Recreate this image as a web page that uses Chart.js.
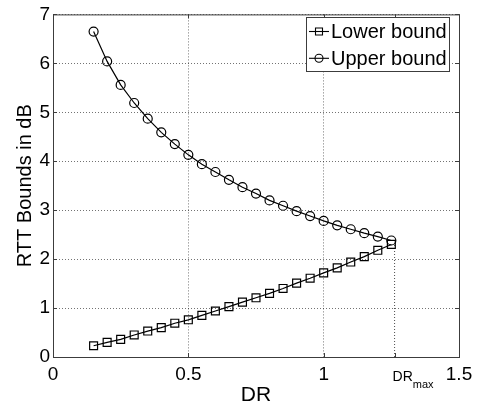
<!DOCTYPE html>
<html lang="en">
  <head>
    <meta charset="utf-8" />
    <title>RTT Bounds vs DR</title>
    <style>
      * {
        margin: 0;
        padding: 0;
      }
      body {
        background: white;
      }
      canvas {
        display: block;
      }
    </style>
  </head>
  <body>
    <canvas id="myChart" width="479" height="413"></canvas>

    <script src="https://cdn.jsdelivr.net/npm/chart.js@4.4.0/dist/chart.umd.min.js"></script>

    <script>
      // data block
      const drValues = [
        0.15, 0.2, 0.25, 0.3, 0.35, 0.4, 0.45, 0.5, 0.55, 0.6, 0.65, 0.7,
        0.75, 0.8, 0.85, 0.9, 0.95, 1.0, 1.05, 1.1, 1.15, 1.2, 1.25,
      ];
      const lowerBound = [
        0.23, 0.3, 0.36, 0.45, 0.53, 0.6, 0.69, 0.76, 0.85, 0.94, 1.03, 1.12,
        1.21, 1.3, 1.4, 1.51, 1.61, 1.72, 1.82, 1.94, 2.05, 2.18, 2.3,
      ];
      const upperBound = [
        6.65, 6.04, 5.56, 5.19, 4.87, 4.59, 4.35, 4.13, 3.94, 3.78, 3.62, 3.47,
        3.34, 3.2, 3.09, 2.98, 2.88, 2.78, 2.69, 2.61, 2.53, 2.46, 2.38,
      ];
      const drMax = 1.262;
      const drMaxTop = 2.3;
      const xTicks = [0, 0.5, 1, 1.5];
      const yTicks = [0, 1, 2, 3, 4, 5, 6, 7];

      const FONT = "'Liberation Sans', Arial, Helvetica, sans-serif";
      const AXIS = "#3c3c3c";
      Chart.defaults.font.family = FONT;
      Chart.defaults.color = "#000";

      const toPoints = (ys) => drValues.map((x, i) => ({ x, y: ys[i] }));

      const data = {
        datasets: [
          {
            label: "Lower bound",
            data: toPoints(lowerBound),
            borderColor: "#000",
            borderWidth: 1.2,
            pointStyle: "rect",
            pointRadius: 5.6,
            pointBorderColor: "#000",
            pointBackgroundColor: "rgba(0,0,0,0)",
            pointBorderWidth: 1.2,
          },
          {
            label: "Upper bound",
            data: toPoints(upperBound),
            borderColor: "#000",
            borderWidth: 1.2,
            pointStyle: "circle",
            pointRadius: 4.5,
            pointBorderColor: "#000",
            pointBackgroundColor: "rgba(0,0,0,0)",
            pointBorderWidth: 1.2,
          },
          {
            label: "DRmax",
            data: [
              { x: drMax, y: 0 },
              { x: drMax, y: drMaxTop },
            ],
            borderColor: "rgba(0,0,0,0.7)",
            borderWidth: 1,
            borderDash: [1, 2],
            pointRadius: 0,
          },
        ],
      };

      // frame, inward ticks and the DR_max tick label
      const frame = {
        id: "frame",
        afterDatasetsDraw(chart) {
          const { ctx, chartArea: a, scales } = chart;
          const { x, y } = scales;
          ctx.save();
          ctx.strokeStyle = AXIS;
          ctx.lineWidth = 1;
          ctx.strokeRect(a.left + 0.5, a.top + 0.5, a.width, a.height);

          ctx.beginPath();
          const tl = 4;
          yTicks.forEach((v) => {
            const py = Math.round(y.getPixelForValue(v)) + 0.5;
            ctx.moveTo(a.left, py);
            ctx.lineTo(a.left + tl, py);
            ctx.moveTo(a.right, py);
            ctx.lineTo(a.right - tl, py);
          });
          [...xTicks, drMax].forEach((v) => {
            const px = Math.round(x.getPixelForValue(v)) + 0.5;
            ctx.moveTo(px, a.bottom);
            ctx.lineTo(px, a.bottom - tl);
            ctx.moveTo(px, a.top);
            ctx.lineTo(px, a.top + tl);
          });
          ctx.stroke();

          // DR_max label
          const px = x.getPixelForValue(drMax);
          ctx.fillStyle = "#000";
          ctx.textAlign = "left";
          ctx.textBaseline = "alphabetic";
          ctx.font = "14px " + FONT;
          ctx.fillText("DR", px - 2, 381);
          const w = ctx.measureText("DR").width;
          ctx.font = "11px " + FONT;
          ctx.fillText("max", px - 2 + w, 388);
          ctx.restore();
        },
      };

      // legend box in the upper right corner
      const boxLegend = {
        id: "boxLegend",
        afterDraw(chart) {
          const { ctx } = chart;
          const box = { left: 306, top: 17, width: 143, height: 54 };
          ctx.save();
          ctx.fillStyle = "#fff";
          ctx.fillRect(box.left, box.top, box.width, box.height);
          ctx.strokeStyle = AXIS;
          ctx.lineWidth = 1;
          ctx.strokeRect(box.left + 0.5, box.top + 0.5, box.width, box.height);

          const rows = [chart.data.datasets[0], chart.data.datasets[1]];
          rows.forEach((ds, i) => {
            const cy = 31.5 + i * 26.8;
            ctx.strokeStyle = "#000";
            ctx.lineWidth = 1.1;
            ctx.beginPath();
            ctx.moveTo(309, cy);
            ctx.lineTo(329, cy);
            ctx.stroke();
            ctx.beginPath();
            if (ds.pointStyle === "rect") {
              ctx.rect(315.5, cy - 3.5, 7, 7);
            } else {
              ctx.arc(319, cy, 4, 0, Math.PI * 2);
            }
            ctx.stroke();
            ctx.fillStyle = "#000";
            ctx.font = "20px " + FONT;
            ctx.textAlign = "left";
            ctx.textBaseline = "middle";
            ctx.fillText(ds.label, 331, cy + 1);
          });
          ctx.restore();
        },
      };

      const gridOpts = {
        color: "rgba(0,0,0,0.55)",
        drawTicks: false,
        lineWidth: 1,
      };

      // config block
      const config = {
        type: "line",
        data: data,
        options: {
          responsive: false,
          animation: false,
          layout: {
            padding: { top: 8, right: 20, left: 0, bottom: 0 },
          },
          plugins: {
            legend: { display: false },
            tooltip: { enabled: false },
          },
          scales: {
            x: {
              type: "linear",
              min: 0,
              max: 1.5,
              afterFit: (scale) => {
                scale.height = 56;
              },
              afterBuildTicks: (scale) => {
                scale.ticks = xTicks.map((v) => ({ value: v }));
              },
              ticks: {
                padding: 6,
                maxRotation: 0,
                font: { size: 19 },
                callback: (v) => String(+v),
              },
              grid: gridOpts,
              border: { display: false, dash: [1, 2] },
              title: {
                display: true,
                text: "DR",
                font: { size: 21 },
                padding: { top: 0, bottom: 5 },
              },
            },
            y: {
              min: 0,
              max: 7,
              afterFit: (scale) => {
                scale.width = 53;
              },
              afterBuildTicks: (scale) => {
                scale.ticks = yTicks.map((v) => ({ value: v }));
              },
              ticks: {
                padding: 3,
                font: { size: 19 },
              },
              grid: gridOpts,
              border: { display: false, dash: [1, 2] },
              title: {
                display: true,
                text: "RTT Bounds in dB",
                font: { size: 20 },
                padding: { top: 13, bottom: 0 },
              },
            },
          },
        },
        plugins: [frame, boxLegend],
      };

      // init render block
      const myChart = new Chart(document.getElementById("myChart"), config);
    </script>
  </body>
</html>
